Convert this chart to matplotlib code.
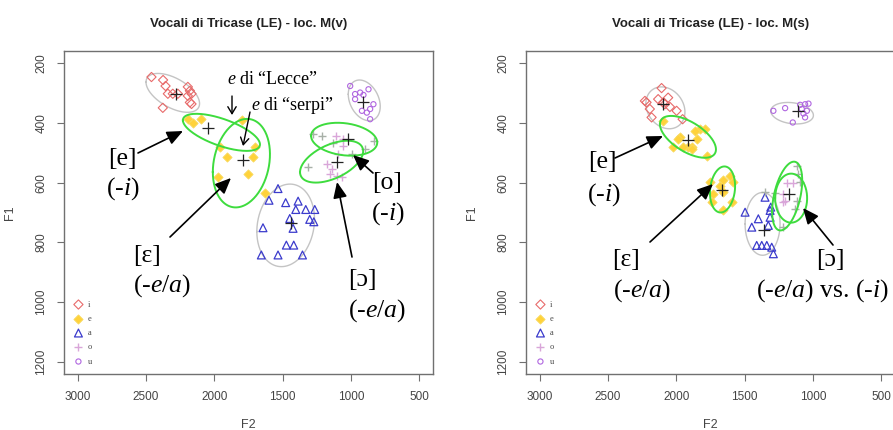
import numpy as np
import matplotlib
matplotlib.use("Agg")
import matplotlib.pyplot as plt

plt.rcParams['font.family'] = ['Liberation Sans', 'DejaVu Sans']
plt.rcParams['mathtext.fontset'] = 'custom'
plt.rcParams['mathtext.rm'] = 'Liberation Serif'
plt.rcParams['mathtext.it'] = 'Liberation Serif:italic'

# ---------------- data: panel M(v) ----------------
mv_title = "Vocali di Tricase (LE) - loc. M(v)"
mv_i_f2 = [2460, 2375, 2357, 2340, 2304, 2267, 2194, 2179, 2167, 2194, 2179, 2167, 2377]
mv_i_f1 = [247, 257, 277, 303, 303, 303, 280, 293, 303, 310, 332, 337, 350]
mv_e_f2 = [2194, 2159, 2098, 1800, 1959, 1910, 1703, 1717, 1754, 1974, 1629]
mv_e_f1 = [387, 402, 387, 390, 480, 513, 482, 513, 570, 580, 636]
mv_a_f2 = [1534, 1600, 1478, 1387, 1404, 1331, 1265, 1448, 1424, 1302, 1272, 1644, 1473, 1419, 1656, 1534, 1355]
mv_a_f1 = [620, 659, 667, 662, 690, 690, 690, 720, 753, 723, 731, 751, 809, 809, 842, 842, 842]
mv_o_f2 = [1055, 1055, 1092, 1177, 1140, 1153, 1104, 1067, 1109]
mv_o_f1 = [454, 477, 504, 538, 554, 571, 577, 580, 443]
mv_og_f2 = [1129, 896, 835, 1214, 994, 1312, 1277]
mv_og_f1 = [466, 488, 460, 443, 504, 549, 437]
mv_u_f2 = [1006, 970, 933, 909, 872, 970, 836, 860, 920, 884, 860]
mv_u_f1 = [277, 304, 299, 307, 288, 321, 338, 354, 360, 366, 388]
mv_mean_f2 = [2284, 2045, 1788, 1436, 1019, 1104, 913]
mv_mean_f1 = [304, 419, 526, 734, 454, 532, 332]
# ellipses: centre F2, centre F1, half-extent F2, half-extent F1, correlation, kind
mv_ell_f2 = [2304, 1948, 1802, 1478, 1050, 1142, 903]
mv_ell_f1 = [300, 432, 535, 743, 455, 530, 325]
mv_ell_s2 = [196, 282, 209, 211, 242, 231, 117]
mv_ell_s1 = [65, 62, 148, 138, 55, 70, 68]
mv_ell_r = [-0.55, -0.65, 0.2, 0.15, -0.2, 0.5, -0.3]
mv_ell_kind = ['grey', 'green', 'green', 'grey', 'green', 'green', 'grey']

# ---------------- data: panel M(s) ----------------
ms_title = "Vocali di Tricase (LE) - loc. M(s)"
ms_i_f2 = [2108, 2218, 2133, 2060, 2194, 2047, 1998, 2181, 1954, 2084, 2230, 2096]
ms_i_f1 = [284, 332, 321, 316, 354, 347, 360, 382, 388, 338, 327, 332]
ms_e_f2 = [1974, 1986, 1888, 1851, 1827, 1778, 1913, 1864, 1791, 2027, 2096, 1950, 1884,
           1656, 1681, 1656, 1607, 1583, 1754, 1730, 1742, 1656, 1595]
ms_e_f1 = [449, 454, 482, 454, 421, 510, 482, 427, 421, 482, 393, 482, 488,
           593, 610, 632, 577, 599, 599, 638, 666, 693, 666]
ms_a_f2 = [1351, 1309, 1497, 1400, 1314, 1448, 1327, 1314, 1412, 1375, 1338, 1302, 1290]
ms_a_f1 = [649, 682, 699, 721, 716, 749, 743, 693, 810, 810, 810, 816, 838]
ms_o_f2 = [1192, 1143, 1217, 1204, 1217]
ms_o_f1 = [602, 602, 638, 660, 666]
ms_og_f2 = [1118, 1107, 1094, 1277, 1118, 1131, 1217, 1351]
ms_og_f1 = [546, 571, 597, 636, 660, 688, 749, 632]
ms_u_f2 = [1290, 1204, 1148, 1094, 1058, 1033, 1082, 1045, 1058, 1070]
ms_u_f1 = [360, 351, 399, 340, 338, 336, 354, 360, 382, 369]
ms_mean_f2 = [2096, 1917, 1664, 1358, 1173, 1107]
ms_mean_f1 = [338, 458, 624, 760, 638, 360]
ms_ell_f2 = [2080, 1915, 1662, 1369, 1189, 1160, 1153]
ms_ell_f1 = [350, 447, 623, 738, 645, 652, 368]
ms_ell_s2 = [143, 205, 92, 128, 110, 117, 156]
ms_ell_s1 = [70, 70, 77, 105, 115, 82, 36]
ms_ell_r = [-0.2, -0.6, 0.15, 0.0, 0.45, 0.0, -0.2]
ms_ell_kind = ['grey', 'green', 'green', 'grey', 'green', 'green', 'grey']

legend_labels = ["i", "e", "a", "o", "u"]
x_ticks = [3000, 2500, 2000, 1500, 1000, 500]
y_ticks = [200, 400, 600, 800, 1000, 1200]

# ---------------- styles ----------------
C_I, C_E, C_A, C_O, C_OG, C_U = '#E86A6A', '#FFD23A', '#3B3BCC', '#D9A6D9', '#A8B0A8', '#B066E0'
ELL_COL = {'grey': '#C4C4C4', 'green': '#3EDC3E'}
ELL_LW = {'grey': 1.0, 'green': 1.4}
AX_COL = '#707070'
TXT_COL = '#444444'

W, H = 893, 430
fig = plt.figure(figsize=(W / 100, H / 100), dpi=100)


def fx(x):
    return x / W


def fy(y):
    return 1 - y / H


def make_ax(left_px, title, i2, i1, e2, e1, a2, a1, o2, o1, og2, og1, u2, u1,
            m2, m1, ef2, ef1, es2, es1, er, ek):
    ax = fig.add_axes([fx(left_px), fy(374), 369 / W, 323 / H])
    ax.set_xlim(3100, 400)
    ax.set_ylim(1240, 160)
    t = np.linspace(0, 2 * np.pi, 200)
    for c2, c1, s2, s1, r, k in zip(ef2, ef1, es2, es1, er, ek):
        xs = c2 + s2 * np.cos(t)
        ys = c1 + s1 * (r * np.cos(t) + np.sqrt(1 - r * r) * np.sin(t))
        ax.plot(xs, ys, color=ELL_COL[k], lw=ELL_LW[k], zorder=2 if k == 'grey' else 4)
    hi = ax.scatter(i2, i1, marker='D', s=22, facecolors='none', edgecolors=C_I, linewidths=0.8, zorder=3)
    he = ax.scatter(e2, e1, marker='D', s=22, facecolors=C_E, edgecolors='#F8DA60', linewidths=0.6, zorder=3)
    ha = ax.scatter(a2, a1, marker='^', s=32, facecolors='none', edgecolors=C_A, linewidths=0.9, zorder=3)
    ho = ax.scatter(o2, o1, marker='+', s=40, color=C_O, linewidths=1.0, zorder=3)
    ax.scatter(og2, og1, marker='+', s=40, color=C_OG, linewidths=1.0, zorder=3)
    hu = ax.scatter(u2, u1, marker='o', s=14, facecolors='none', edgecolors=C_U, linewidths=0.8, zorder=3)
    ax.scatter(m2, m1, marker='+', s=70, color='#222222', linewidths=0.9, zorder=5)

    for sp in ax.spines.values():
        sp.set_color(AX_COL)
        sp.set_linewidth(1.0)
    ax.set_xticks(x_ticks)
    ax.set_yticks(y_ticks)
    ax.set_xticklabels([str(v) for v in x_ticks])
    ax.set_yticklabels([str(v) for v in y_ticks], rotation=90, va='center')
    ax.tick_params(direction='out', length=5, width=0.8, color=AX_COL,
                   labelsize=8.5, labelcolor=TXT_COL, pad=7)
    ax.set_xlabel("F2", fontsize=9, color=TXT_COL, labelpad=12)
    ax.set_ylabel("F1", fontsize=9, color=TXT_COL, labelpad=14)
    ax.set_title(title, fontsize=9.5, fontweight='bold', color='#222222', pad=17)

    leg = ax.legend([hi, he, ha, ho, hu], legend_labels, loc='upper left',
                    bbox_to_anchor=(0.012, 0.245), frameon=False,
                    handlelength=1.0, handletextpad=0.6, labelspacing=0.75,
                    borderpad=0.2, scatterpoints=1, prop={'family': 'Liberation Serif', 'size': 6})
    for txt in leg.get_texts():
        txt.set_color(TXT_COL)
    return ax


ax1 = make_ax(64, mv_title, mv_i_f2, mv_i_f1, mv_e_f2, mv_e_f1, mv_a_f2, mv_a_f1,
              mv_o_f2, mv_o_f1, mv_og_f2, mv_og_f1, mv_u_f2, mv_u_f1,
              mv_mean_f2, mv_mean_f1, mv_ell_f2, mv_ell_f1, mv_ell_s2, mv_ell_s1, mv_ell_r, mv_ell_kind)
ax2 = make_ax(526, ms_title, ms_i_f2, ms_i_f1, ms_e_f2, ms_e_f1, ms_a_f2, ms_a_f1,
              ms_o_f2, ms_o_f1, ms_og_f2, ms_og_f1, ms_u_f2, ms_u_f1,
              ms_mean_f2, ms_mean_f1, ms_ell_f2, ms_ell_f1, ms_ell_s2, ms_ell_s1, ms_ell_r, ms_ell_kind)

# ---------------- annotations ----------------
SERIF = 'Liberation Serif'
BIG = 18.5


def label(x, y, s, size=BIG, ha='center'):
    fig.text(fx(x), fy(y), s, fontsize=size, family=SERIF, ha=ha, va='center', color='black')


def arrow(x0, y0, x1, y1, big=True):
    if big:
        props = dict(arrowstyle='-|>,head_length=0.8,head_width=0.35', mutation_scale=12,
                     lw=1.2, color='black', shrinkA=0, shrinkB=0)
    else:
        props = dict(arrowstyle='->,head_length=0.5,head_width=0.3', mutation_scale=10,
                     lw=1.0, color='black', shrinkA=0, shrinkB=0)
    fig.add_artist(matplotlib.patches.FancyArrowPatch((fx(x0), fy(y0)), (fx(x1), fy(y1)),
                                                      transform=fig.transFigure, **props))


# left panel
label(122, 159, "[e]")
label(123, 189, r"(-$\mathit{i}$)")
label(147, 256, "[ɛ]")
label(162, 286, r"(-$\mathit{e/a}$)")
label(387, 183, "[o]")
label(388, 214, r"(-$\mathit{i}$)")
label(362, 280, "[ɔ]")
label(377, 311, r"(-$\mathit{e/a}$)")
label(273, 80, r"$\mathit{e}$ di “Lecce”", size=13)
label(293, 105, r"$\mathit{e}$ di “serpi”", size=13)
arrow(138, 153, 183, 131)
arrow(170, 237, 231, 178)
arrow(373, 173, 353, 155)
arrow(352, 257, 337, 182)
arrow(232, 96, 232, 115, big=False)
arrow(250, 112, 243, 146, big=False)

# right panel
label(602, 162, "[e]")
label(604, 195, r"(-$\mathit{i}$)")
label(626, 260, "[ɛ]")
label(642, 291, r"(-$\mathit{e/a}$)")
label(830, 260, "[ɔ]")
label(756, 291, r"(-$\mathit{e/a}$) vs. (-$\mathit{i}$)", ha='left')
arrow(615, 158, 663, 136)
arrow(650, 242, 713, 184)
arrow(833, 245, 803, 208)

fig.savefig("out.png", dpi=100)
